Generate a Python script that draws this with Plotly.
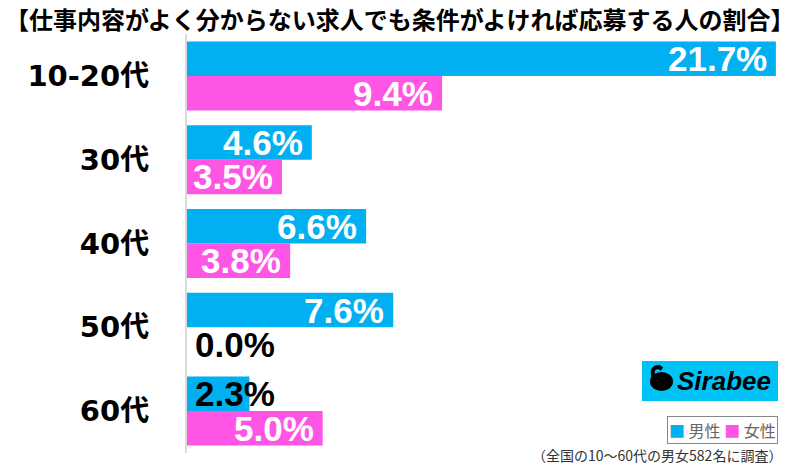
import plotly.graph_objects as go

categories = ["10-20代", "30代", "40代", "50代", "60代"]
male = [21.7, 4.6, 6.6, 7.6, 2.3]
female = [9.4, 3.5, 3.8, 0.0, 5.0]
series_names = ["男性", "女性"]
title_text = "【仕事内容がよく分からない求人でも条件がよければ応募する人の割合】"
footer_text = "（全国の10〜60代の男女582名に調査）"

BLUE = "#00B0F0"
PINK = "#FF55E5"
LOGO_BLUE = "#00C3F5"

W, H = 800, 466
ML, MR, MT, MB = 187, 10, 34, 13
PW, PH = W - ML - MR, H - MT - MB
XMAX = 22.22


def px(x):
    return (x - ML) / PW


def py(y):
    return (H - MB - y) / PH


fig = go.Figure()
fig.add_trace(go.Bar(y=categories, x=male, name=series_names[0], orientation="h",
                     marker=dict(color=BLUE, line=dict(width=0))))
fig.add_trace(go.Bar(y=categories, x=female, name=series_names[1], orientation="h",
                     marker=dict(color=PINK, line=dict(width=0))))

annotations = []
label_font = "Liberation Sans"
for vals, shift in ((male, 17.2), (female, -17.2)):
    for cat, v in zip(categories, vals):
        txt = f"{v:.1f}%"
        if v >= 3.0:
            annotations.append(dict(x=v, y=cat, xref="x", yref="y", text=txt, showarrow=False,
                                    xanchor="right", yanchor="middle", xshift=-7, yshift=shift,
                                    font=dict(family=label_font, size=35, color="white", weight="bold")))
        else:
            annotations.append(dict(x=0, y=cat, xref="x", yref="y", text=txt, showarrow=False,
                                    xanchor="left", yanchor="middle", xshift=6, yshift=shift,
                                    font=dict(family=label_font, size=35, color="black", weight="bold")))

# title
annotations.append(dict(x=px(400), y=py(18), xref="paper", yref="paper", text=title_text,
                        showarrow=False, xanchor="center", yanchor="middle",
                        font=dict(family="Noto Sans CJK JP", size=24, color="black", weight="bold")))
# footer
annotations.append(dict(x=px(784), y=py(455), xref="paper", yref="paper", text=footer_text,
                        showarrow=False, xanchor="right", yanchor="middle",
                        font=dict(family="Noto Sans CJK JP", size=14, color="#333333")))
# legend box
annotations.append(dict(x=px(722), y=py(430), xref="paper", yref="paper",
                        text=f"<span style='color:{BLUE}'>■</span> {series_names[0]} "
                             f"<span style='color:{PINK}'>■</span> {series_names[1]}",
                        showarrow=False, xanchor="center", yanchor="middle",
                        bordercolor="#888888", borderwidth=1, borderpad=1, bgcolor="white",
                        font=dict(family="Noto Sans CJK JP", size=16, color="#666666")))
# logo text
annotations.append(dict(x=px(724), y=py(381), xref="paper", yref="paper", text="<i>Sirabee</i>",
                        showarrow=False, xanchor="center", yanchor="middle",
                        font=dict(family="Liberation Sans", size=26, color="black", weight="bold")))

shapes = [
    dict(type="rect", xref="paper", yref="paper", x0=px(642), x1=px(778), y0=py(361), y1=py(401),
         fillcolor=LOGO_BLUE, line=dict(width=0), layer="below"),
    dict(type="circle", xref="paper", yref="paper", x0=px(650), x1=px(673), y0=py(391), y1=py(372),
         fillcolor="black", line=dict(width=0)),
    dict(type="path", xref="paper", yref="paper",
         path=f"M {px(654)},{py(378)} Q {px(650)},{py(367)} {px(659)},{py(367)} L {px(662)},{py(369)}",
         line=dict(color="black", width=4)),
]

fig.update_layout(
    width=W, height=H,
    margin=dict(l=ML, r=MR, t=MT, b=MB),
    paper_bgcolor="white", plot_bgcolor="white",
    barmode="group", bargap=0.177, bargroupgap=0,
    showlegend=False,
    xaxis=dict(range=[0, XMAX], visible=False, fixedrange=True),
    yaxis=dict(autorange="reversed", showline=True, linecolor="#DADADA", linewidth=2,
               ticks="", showgrid=False, ticklabelstandoff=30,
               tickfont=dict(family="DejaVu Sans, Noto Sans CJK JP", size=29, color="black",
                             weight="bold")),
    annotations=annotations,
    shapes=shapes,
)

fig.write_html("out.html")
